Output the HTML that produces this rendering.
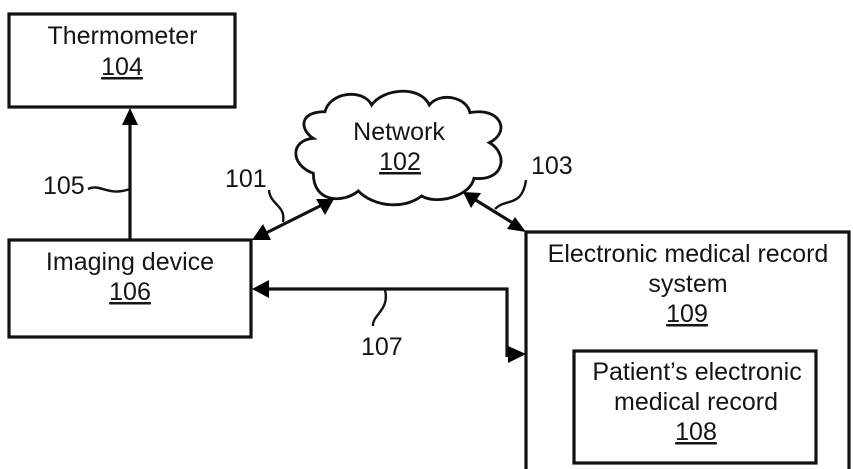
<!DOCTYPE html>
<html>
<head>
<meta charset="utf-8">
<style>
html,body{margin:0;padding:0;background:#fff;width:853px;height:469px;overflow:hidden}
svg{display:block}
text{font-family:"Liberation Sans",Arial,sans-serif;font-size:25px;fill:#151515}
.m{text-anchor:middle}
.u{text-decoration:underline}
.b{fill:none;stroke:#111;stroke-width:3.2}
.l{fill:none;stroke:#111;stroke-width:3.2}
.s{fill:none;stroke:#111;stroke-width:2.4}
.h{fill:#000;stroke:none}
</style>
</head>
<body>
<svg width="853" height="469" viewBox="0 0 853 469" xmlns="http://www.w3.org/2000/svg">
<rect class="b" x="9" y="14" width="226" height="93"/>
<rect class="b" x="9" y="240" width="242" height="97"/>
<path class="b" d="M526 469V232H849V469"/>
<rect class="b" x="574" y="351" width="242" height="112"/>

<g transform="translate(270 90) scale(.3333)">
<path fill="none" stroke="#111" stroke-width="8.5" d="M130 145C90 120 85 65 165 65C180 5 280 -5 305 45C340 -5 450 -15 478 45C510 5 590 20 600 68C690 50 725 125 658 158C715 190 705 275 612 265C600 320 500 345 455 318C400 360 310 350 265 303C220 340 130 340 130 250C60 225 60 150 130 145Z"/>
</g>

<path class="l" d="M130 240V120"/>
<path class="h" d="M130 108L122 125H138Z"/>
<path class="l" d="M262 235L324 204"/>
<path class="h" d="M252 240L271 240L263 224Z"/>
<path class="h" d="M334 199L316 199L325 215Z"/>
<path class="l" d="M474 199L516 225"/>
<path class="h" d="M463 192L481 193L471 208Z"/>
<path class="h" d="M526 232L515 217L507 229Z"/>
<path class="l" d="M264 289H507V357"/>
<path class="h" d="M252 289L269 280V298Z"/>
<path class="h" d="M526 354L508 346V363Z"/>

<path class="s" d="M88 189C100 183 108 197 130 189"/>
<path class="s" d="M283 222C286 205 270 205 269 190"/>
<path class="s" d="M495 209C505 198 522 208 526 180"/>
<path class="s" d="M385 290C390 310 372 315 373 326"/>

<text class="m" x="122.500" y="44">Thermometer</text>
<text class="m u" x="122" y="75">104</text>
<text class="m" x="130" y="270">Imaging device</text>
<text class="m u" x="130" y="300">106</text>
<text class="m" x="399" y="140">Network</text>
<text class="m u" x="400" y="170">102</text>
<text class="m" x="688" y="262">Electronic medical record</text>
<text class="m" x="688" y="292">system</text>
<text class="m u" x="687" y="322">109</text>
<text class="m" x="697" y="380">Patient’s electronic</text>
<text class="m" x="696" y="410">medical record</text>
<text class="m u" x="696" y="440">108</text>
<text x="43" y="194">105</text>
<text x="225" y="187">101</text>
<text x="531" y="174">103</text>
<text x="361" y="355">107</text>
</svg>
</body>
</html>
